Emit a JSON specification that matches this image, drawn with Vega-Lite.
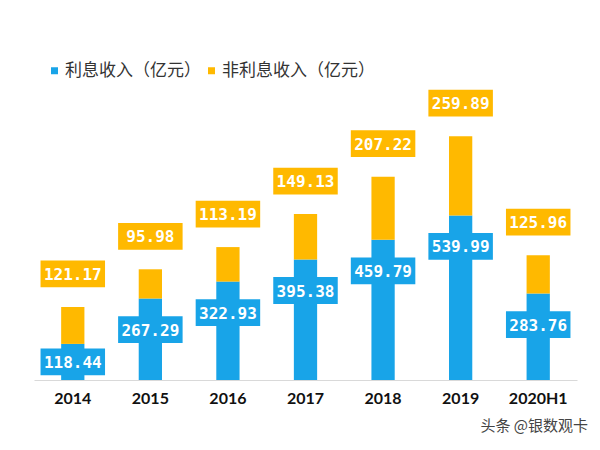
{
  "$schema": "https://vega.github.io/schema/vega-lite/v6.json",
  "width": 543,
  "height": 320,
  "autosize": {"type": "none"},
  "padding": {"left": 34, "top": 60, "right": 23, "bottom": 70},
  "background": "white",
  "config": {"view": {"stroke": null}},
  "title": {
    "text": "头条 @银数观卡",
    "orient": "bottom",
    "anchor": "end",
    "font": "Noto Sans CJK SC",
    "fontSize": 15,
    "fontWeight": "normal",
    "color": "#444",
    "offset": 13,
    "dx": 11
  },
  "data": {
    "values": [
      {"year": "2014", "type": "利息收入（亿元）", "value": 118.44},
      {"year": "2015", "type": "利息收入（亿元）", "value": 267.29},
      {"year": "2016", "type": "利息收入（亿元）", "value": 322.93},
      {"year": "2017", "type": "利息收入（亿元）", "value": 395.38},
      {"year": "2018", "type": "利息收入（亿元）", "value": 459.79},
      {"year": "2019", "type": "利息收入（亿元）", "value": 539.99},
      {"year": "2020H1", "type": "利息收入（亿元）", "value": 283.76},
      {"year": "2014", "type": "非利息收入（亿元）", "value": 121.17},
      {"year": "2015", "type": "非利息收入（亿元）", "value": 95.98},
      {"year": "2016", "type": "非利息收入（亿元）", "value": 113.19},
      {"year": "2017", "type": "非利息收入（亿元）", "value": 149.13},
      {"year": "2018", "type": "非利息收入（亿元）", "value": 207.22},
      {"year": "2019", "type": "非利息收入（亿元）", "value": 259.89},
      {"year": "2020H1", "type": "非利息收入（亿元）", "value": 125.96}
    ]
  },
  "encoding": {
    "x": {
      "field": "year",
      "type": "nominal",
      "sort": null,
      "scale": {"paddingInner": 0.7, "paddingOuter": 0.35},
      "axis": {
        "title": null,
        "labelAngle": 0,
        "labelFont": "Lato",
        "labelFontWeight": "bold",
        "labelFontSize": 16,
        "labelColor": "#111",
        "labelPadding": 10,
        "ticks": false,
        "domainColor": "#d9d9d9",
        "domainWidth": 1
      }
    }
  },
  "layer": [
    {
      "mark": {"type": "bar"},
      "encoding": {
        "y": {
          "field": "value",
          "type": "quantitative",
          "aggregate": "sum",
          "stack": "zero",
          "scale": {"domain": [0, 1050], "nice": false},
          "axis": null
        },
        "color": {
          "field": "type",
          "type": "nominal",
          "scale": {
            "domain": ["利息收入（亿元）", "非利息收入（亿元）"],
            "range": ["#18A4E8", "#FFB900"]
          },
          "legend": {
            "title": null,
            "orient": "none",
            "legendX": 12,
            "legendY": 2,
            "direction": "horizontal",
            "symbolType": "square",
            "symbolSize": 49,
            "labelFont": "Noto Sans CJK SC",
            "labelFontSize": 17,
            "labelColor": "#333",
            "labelLimit": 300,
            "labelOffset": 2,
            "columnPadding": 2,
            "symbolOffset": 0
          }
        },
        "order": {"field": "type", "sort": "ascending"}
      }
    },
    {
      "transform": [{"filter": "datum.type === '利息收入（亿元）'"}],
      "mark": {
        "type": "point",
        "shape": "M-1,-0.415H1V0.415H-1Z",
        "filled": true,
        "opacity": 1,
        "color": "#18A4E8",
        "size": 4160,
        "yOffset": {"expr": "datum.value < 200 ? 18 : 31"}
      },
      "encoding": {
        "y": {"field": "value", "type": "quantitative"}
      }
    },
    {
      "transform": [{"filter": "datum.type === '利息收入（亿元）'"}],
      "mark": {
        "type": "text",
        "font": "DejaVu Sans Mono",
        "fontWeight": "bold",
        "fontSize": 16,
        "color": "white",
        "align": "center",
        "baseline": "middle",
        "yOffset": {"expr": "datum.value < 200 ? 19 : 32"}
      },
      "encoding": {
        "y": {"field": "value", "type": "quantitative"},
        "text": {"field": "value", "type": "quantitative", "format": ".2f"}
      }
    },
    {
      "transform": [
        {"joinaggregate": [{"op": "sum", "field": "value", "as": "total"}], "groupby": ["year"]},
        {"filter": "datum.type === '非利息收入（亿元）'"}
      ],
      "mark": {
        "type": "point",
        "shape": "M-1,-0.415H1V0.415H-1Z",
        "filled": true,
        "opacity": 1,
        "color": "#FFB900",
        "size": 4160,
        "yOffset": -33
      },
      "encoding": {
        "y": {"field": "total", "type": "quantitative"}
      }
    },
    {
      "transform": [
        {"joinaggregate": [{"op": "sum", "field": "value", "as": "total"}], "groupby": ["year"]},
        {"filter": "datum.type === '非利息收入（亿元）'"}
      ],
      "mark": {
        "type": "text",
        "font": "DejaVu Sans Mono",
        "fontWeight": "bold",
        "fontSize": 16,
        "color": "white",
        "align": "center",
        "baseline": "middle",
        "yOffset": -32
      },
      "encoding": {
        "y": {"field": "total", "type": "quantitative"},
        "text": {"field": "value", "type": "quantitative", "format": ".2f"}
      }
    }
  ]
}
